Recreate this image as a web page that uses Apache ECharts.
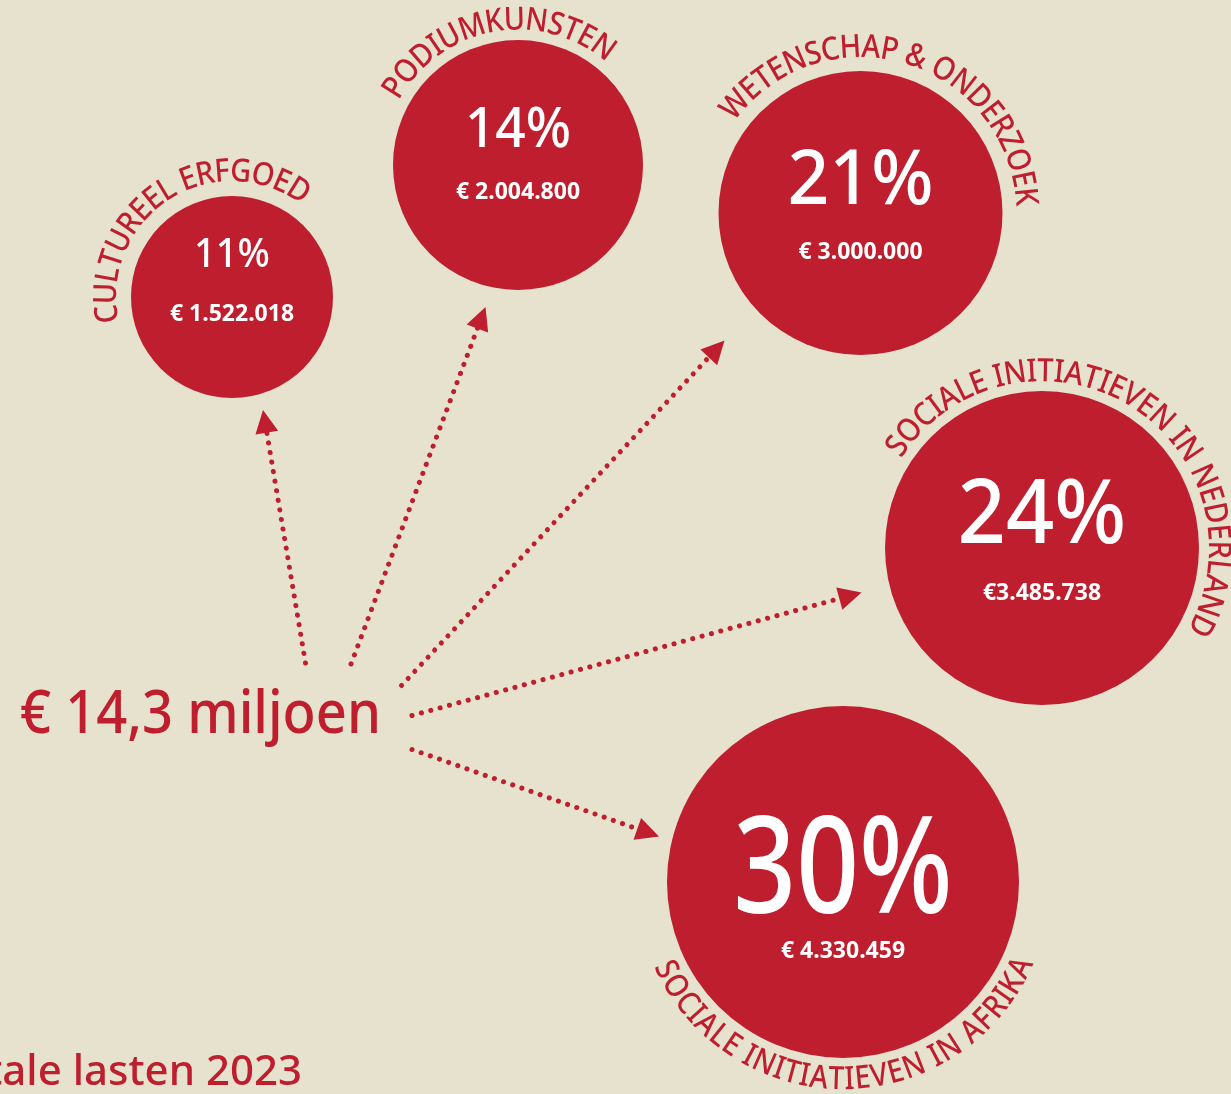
<!DOCTYPE html>
<html><head><meta charset="utf-8">
<style>html,body{margin:0;padding:0;background:#E6E2CE;}#c{width:1231px;height:1094px;}</style>
<script src="https://cdn.jsdelivr.net/npm/echarts@6/dist/echarts.min.js"></script>
</head><body><div id="c"></div>
<script>
// ---------- data ----------
const categories = ['CULTUREEL ERFGOED', 'PODIUMKUNSTEN', 'WETENSCHAP & ONDERZOEK', 'SOCIALE INITIATIEVEN IN NEDERLAND', 'SOCIALE INITIATIEVEN IN AFRIKA'];
const amounts = [1522018, 2004800, 3000000, 3485738, 4330459];
const euroSpace = [true, true, true, false, true];   // as printed in the source
const footerLabel = 'Totale lasten 2023';

// ---------- layout (chart coordinates, not data) ----------
const circleLayout = [
  { cx: 232, cy: 297, r: 101, pctSize: 40, pctY: 256, pctSX: 0.95, amtY: 314, arcR: 125, arcFrom: -102, arcTo: 37, bottom: false },
  { cx: 518, cy: 165, r: 125, pctSize: 56, pctY: 131, pctSX: 0.95, amtY: 192, arcR: 144.5, arcFrom: -61.5, arcTo: 40.5, bottom: false },
  { cx: 860.5, cy: 213, r: 142, pctSize: 77, pctY: 182, pctSX: 0.95, amtY: 252, arcR: 165, arcFrom: -54, arcTo: 87.5, bottom: false },
  { cx: 1042, cy: 548, r: 157, pctSize: 89, pctY: 518, pctSX: 0.95, amtY: 593, arcR: 176, arcFrom: -57.5, arcTo: 119.5, bottom: false },
  { cx: 843, cy: 882, r: 176, pctSize: 134, pctY: 875, pctSX: 0.82, amtY: 951, arcR: 198, arcFrom: 246, arcTo: 113, bottom: true }
];
const arrowLayout = [
  { from: [305.5, 663], tip: [263, 410] },
  { from: [351, 664], tip: [485.5, 307] },
  { from: [401.5, 685.5], tip: [724.5, 340.5] },
  { from: [412, 715.5], tip: [861.5, 592.5] },
  { from: [412, 749.5], tip: [659, 836.5] }
];

const RED = '#BE1E2D';
const BG = '#E6E2CE';
const FONT = '"Noto Sans", "Open Sans", sans-serif';
const ARROW = 23;
const ARC_FS = 32;

const total = amounts.reduce((a, b) => a + b, 0);
const fmt = v => String(v).replace(/\B(?=(\d{3})+(?!\d))/g, '.');
const totalText = '€ ' + (total / 1e6).toFixed(1).replace('.', ',') + ' miljoen';

const mctx = document.createElement('canvas').getContext('2d');
function arcChars(text, cx, cy, R, fromDeg, toDeg, bottom) {
  mctx.font = '500 ' + ARC_FS + 'px "Noto Sans"';
  const chars = Array.from(text);
  const ws = chars.map(ch => mctx.measureText(ch).width);
  const tot = ws.reduce((a, b) => a + b, 0);
  const span = (toDeg - fromDeg) * Math.PI / 180;
  const k = Math.abs(span) * R / tot;
  const sx = Math.min(k, 1.0);
  let acc = 0;
  return chars.map((ch, i) => {
    const t = (acc + ws[i] / 2) / tot; acc += ws[i];
    const th = fromDeg * Math.PI / 180 + span * t;
    return {
      type: 'text',
      x: cx + R * Math.sin(th), y: cy - R * Math.cos(th),
      rotation: bottom ? Math.PI - th : -th,
      scaleX: sx * 0.98,
      style: { text: ch, x: 0, y: 0, fill: RED, fontSize: ARC_FS, fontFamily: FONT, fontWeight: 500,
               align: 'center', verticalAlign: 'middle', textAlign: 'center', textVerticalAlign: 'middle' }
    };
  });
}

const circleData = circleLayout.map((c, i) => [c.cx, c.cy, i]);

const arrowData = arrowLayout.map(a => {
  const dx = a.tip[0] - a.from[0], dy = a.tip[1] - a.from[1];
  const L = Math.hypot(dx, dy);
  const end = [a.tip[0] - dx / L * ARROW / 2, a.tip[1] - dy / L * ARROW / 2];
  return { coords: [a.from, end] };
});

const chart = echarts.init(document.getElementById('c'));
chart.setOption({
  backgroundColor: BG,
  animation: false,
  grid: { left: 0, right: 0, top: 0, bottom: 0 },
  xAxis: { type: 'value', min: 0, max: 1231, show: false },
  yAxis: { type: 'value', min: 0, max: 1094, inverse: true, show: false },
  graphic: [
    { type: 'text', x: 20, y: 716, scaleX: 0.92,
      style: { text: totalText, fill: RED, fontSize: 59, fontFamily: FONT, fontWeight: 500, verticalAlign: 'middle', textVerticalAlign: 'middle' } },
    { type: 'text', x: 302, y: 1073,
      style: { text: footerLabel, fill: RED, fontSize: 42, fontFamily: FONT, fontWeight: 500, align: 'right', textAlign: 'right', verticalAlign: 'middle', textVerticalAlign: 'middle' } }
  ],
  series: [
    {
      type: 'lines',
      coordinateSystem: 'cartesian2d',
      symbol: ['none', 'triangle'],
      symbolSize: ARROW,
      lineStyle: { color: RED, width: 5, type: [0.1, 9.6], cap: 'round', opacity: 1 },
      data: arrowData,
      z: 1
    },
    {
      type: 'custom',
      coordinateSystem: 'cartesian2d',
      data: circleData,
      z: 2,
      renderItem: function (params, api) {
        const i = api.value(2);
        const c = circleLayout[i];
        const p = api.coord([api.value(0), api.value(1)]);
        const r = api.size([c.r, 0])[0];
        const pctY = api.coord([0, c.pctY])[1];
        const amtY = api.coord([0, c.amtY])[1];
        const pct = Math.round(amounts[i] / total * 100) + '%';
        const amt = '€' + (euroSpace[i] ? ' ' : '') + fmt(amounts[i]);
        const children = [
          { type: 'circle', shape: { cx: p[0], cy: p[1], r: r }, style: { fill: RED } },
          { type: 'text', x: p[0], y: pctY, scaleX: c.pctSX,
            style: { text: pct, x: 0, y: 0, fill: '#fff', fontSize: c.pctSize, fontFamily: FONT, fontWeight: 500,
                     align: 'center', verticalAlign: 'middle', textAlign: 'center', textVerticalAlign: 'middle' } },
          { type: 'text', x: p[0], y: amtY,
            style: { text: amt, x: 0, y: 0, fill: '#fff', fontSize: 23, fontFamily: FONT, fontWeight: 700,
                     align: 'center', verticalAlign: 'middle', textAlign: 'center', textVerticalAlign: 'middle' } }
        ].concat(arcChars(categories[i], p[0], p[1], api.size([c.arcR, 0])[0], c.arcFrom, c.arcTo, c.bottom));
        return { type: 'group', children: children };
      }
    }
  ]
});
</script></body></html>
